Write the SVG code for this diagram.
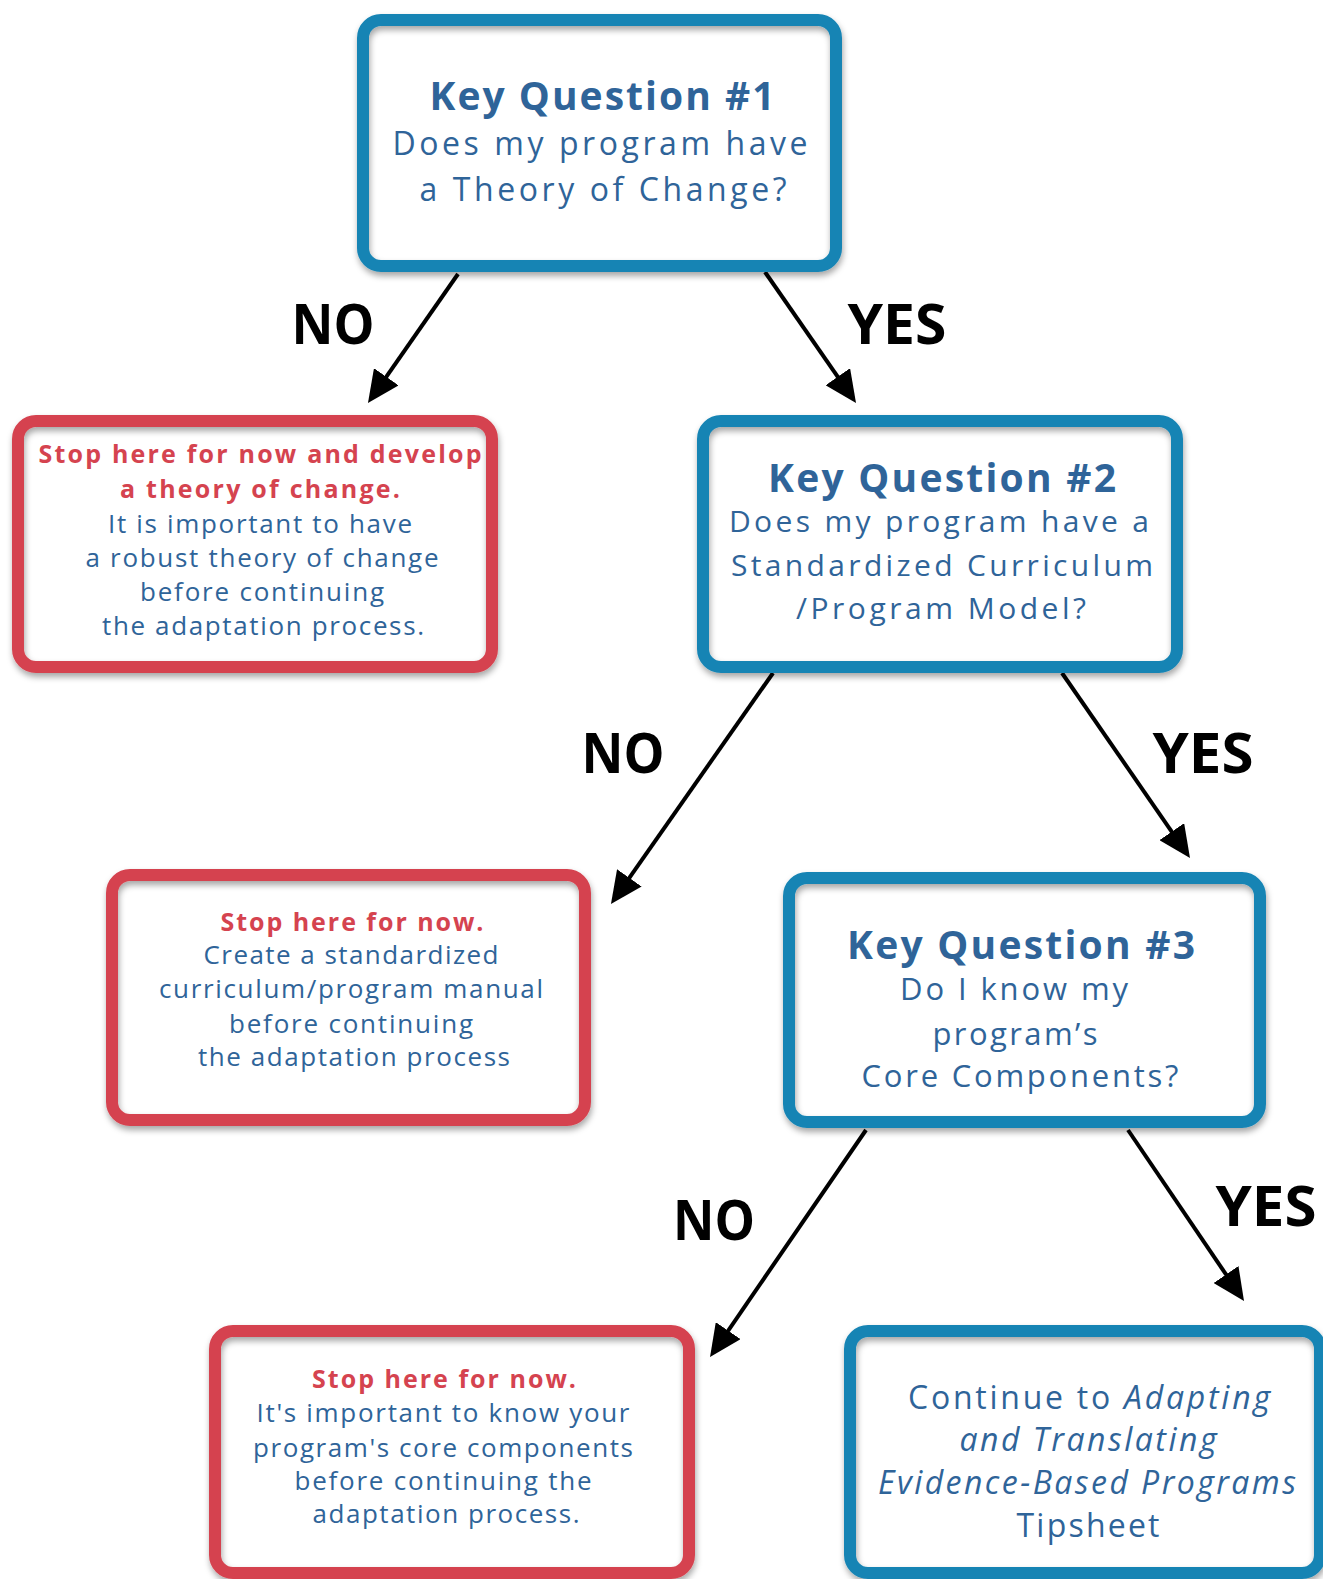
<svg xmlns="http://www.w3.org/2000/svg" width="1323" height="1579" viewBox="0 0 1323 1579">
<defs>
<filter id="sh" x="-10%" y="-10%" width="120%" height="125%">
<feDropShadow dx="1" dy="4" stdDeviation="3" flood-color="#000" flood-opacity="0.35"/>
</filter>
<marker id="ah" markerUnits="userSpaceOnUse" viewBox="0 0 32 30" markerWidth="32" markerHeight="30" refX="22" refY="15" orient="auto">
<path d="M0,0 L32,15 L0,30 z" fill="#000"/>
</marker>
</defs>
<style>
.bg{fill:#fff;stroke:none}
.bb{fill:none;stroke:#1784b4;stroke-width:12}
.rb{fill:none;stroke:#d5434f;stroke-width:12}
text{font-family:"Open Sans","Noto Sans","Liberation Sans",sans-serif;text-anchor:middle}
.kq{font-size:39px;font-weight:700;fill:#2f6499}
.q{font-size:32px;fill:#2f6499}
.q2{font-size:30px;fill:#2f6499}
.q3{font-size:31px;fill:#2f6499}
.rh{font-size:25px;font-weight:700;fill:#d5434f}
.rt{font-size:26px;fill:#2f6499}
.lab{font-size:56px;font-weight:700;fill:#000}
.it{font-style:italic}
.cn{fill:none;stroke:#000;stroke-width:4;marker-end:url(#ah)}
</style>
<rect width="1323" height="1579" fill="#fff"/>
<g id="connectors">
<line class="cn" x1="458" y1="274" x2="373.7" y2="394.8"/>
<line class="cn" x1="765" y1="272" x2="850.3" y2="394.8"/>
<line class="cn" x1="773" y1="673" x2="616.7" y2="895.8"/>
<line class="cn" x1="1062" y1="673" x2="1184.3" y2="849.8"/>
<line class="cn" x1="866" y1="1130" x2="715.7" y2="1348.8"/>
<line class="cn" x1="1128" y1="1130" x2="1238.4" y2="1292.7"/>
<text class="lab" x="333" y="344" textLength="83" lengthAdjust="spacingAndGlyphs">NO</text>
<text class="lab" x="897" y="344" textLength="99" lengthAdjust="spacingAndGlyphs">YES</text>
<text class="lab" x="623" y="773" textLength="83" lengthAdjust="spacingAndGlyphs">NO</text>
<text class="lab" x="1203" y="773" textLength="101" lengthAdjust="spacingAndGlyphs">YES</text>
<text class="lab" x="714" y="1240" textLength="82" lengthAdjust="spacingAndGlyphs">NO</text>
<text class="lab" x="1266" y="1226" textLength="101" lengthAdjust="spacingAndGlyphs">YES</text>
</g>
<g id="q1">
<rect class="bg" x="363" y="20" width="473" height="246" rx="18"/>
<rect class="bb" x="363" y="20" width="473" height="246" rx="18" filter="url(#sh)"/>
<text class="kq" x="602" y="110" textLength="345">Key Question #1</text>
<text class="q" x="600" y="155" textLength="415">Does my program have</text>
<text class="q" x="603" y="201" textLength="367">a Theory of Change?</text>
</g>
<g id="stop1">
<rect class="bg" x="18" y="421" width="474" height="246" rx="18"/>
<rect class="rb" x="18" y="421" width="474" height="246" rx="18" filter="url(#sh)"/>
<text class="rh" x="260" y="463" textLength="443">Stop here for now and develop</text>
<text class="rh" x="260" y="498" textLength="280">a theory of change.</text>
<text class="rt" x="260" y="533" textLength="304">It is important to have</text>
<text class="rt" x="262" y="567" textLength="353">a robust theory of change</text>
<text class="rt" x="262" y="601" textLength="244">before continuing</text>
<text class="rt" x="263" y="635" textLength="322">the adaptation process.</text>
</g>
<g id="q2">
<rect class="bg" x="703" y="421" width="474" height="246" rx="18"/>
<rect class="bb" x="703" y="421" width="474" height="246" rx="18" filter="url(#sh)"/>
<text class="kq" x="942" y="492" textLength="348">Key Question #2</text>
<text class="q2" x="939" y="532" textLength="420">Does my program have a</text>
<text class="q2" x="942" y="576" textLength="422">Standardized Curriculum</text>
<text class="q2" x="941" y="619" textLength="290">/Program Model?</text>
</g>
<g id="stop2">
<rect class="bg" x="112" y="875" width="473" height="245" rx="18"/>
<rect class="rb" x="112" y="875" width="473" height="245" rx="18" filter="url(#sh)"/>
<text class="rh" x="352" y="931" textLength="263">Stop here for now.</text>
<text class="rt" x="351" y="964" textLength="295">Create a standardized</text>
<text class="rt" x="351" y="998" textLength="384">curriculum/program manual</text>
<text class="rt" x="351" y="1033" textLength="244">before continuing</text>
<text class="rt" x="354" y="1066" textLength="312">the adaptation process</text>
</g>
<g id="q3">
<rect class="bg" x="789" y="878" width="471" height="244" rx="18"/>
<rect class="bb" x="789" y="878" width="471" height="244" rx="18" filter="url(#sh)"/>
<text class="kq" x="1021" y="959" textLength="348">Key Question #3</text>
<text class="q3" x="1014" y="1000" textLength="228">Do I know my</text>
<text class="q3" x="1015" y="1045" textLength="165">program’s</text>
<text class="q3" x="1020" y="1087" textLength="317">Core Components?</text>
</g>
<g id="stop3">
<rect class="bg" x="215" y="1331" width="474" height="242" rx="18"/>
<rect class="rb" x="215" y="1331" width="474" height="242" rx="18" filter="url(#sh)"/>
<text class="rh" x="444" y="1388" textLength="264">Stop here for now.</text>
<text class="rt" x="443" y="1422" textLength="373">It's important to know your</text>
<text class="rt" x="443" y="1457" textLength="380">program's core components</text>
<text class="rt" x="443" y="1490" textLength="297">before continuing the</text>
<text class="rt" x="446" y="1523" textLength="267">adaptation process.</text>
</g>
<g id="continue">
<rect class="bg" x="850" y="1331" width="470" height="242" rx="18"/>
<rect class="bb" x="850" y="1331" width="470" height="242" rx="18" filter="url(#sh)"/>
<text class="q" x="1089" y="1409" textLength="362">Continue to <tspan class="it">Adapting</tspan></text>
<text class="q it" x="1088" y="1451" textLength="257">and Translating</text>
<text class="q it" x="1087" y="1494" textLength="418">Evidence-Based Programs</text>
<text class="q" x="1088" y="1537" textLength="143">Tipsheet</text>
</g>
</svg>
